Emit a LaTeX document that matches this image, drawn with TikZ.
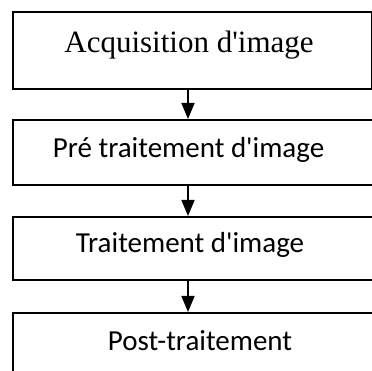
\documentclass[tikz,border=0pt]{standalone}
\usepackage{fontspec}
\newfontfamily\serfont{Liberation Serif}
\newfontfamily\calfont{Carlito}
\usetikzlibrary{arrows.meta}
\begin{document}
\begin{tikzpicture}[x=1pt,y=-1pt,
  boxstyle/.style={draw=black,line width=1.7pt,inner sep=0pt,anchor=north west},
  serifstyle/.style={font=\serfont\fontsize{31}{31}\selectfont,anchor=base,inner sep=0pt},
  sansstyle/.style={font=\calfont\fontsize{29}{29}\selectfont,anchor=base,inner sep=0pt},
  arr/.style={line width=1.7pt,-{Triangle[width=13pt,length=16pt]}}]
\useasboundingbox (0,0) rectangle (372,371);
\clip (0,0) rectangle (372,371);
\fill[white] (0,0) rectangle (372,371);
\node[boxstyle,minimum width=359pt,minimum height=77pt] (b1) at (12,11) {};
\node[boxstyle,minimum width=370pt,minimum height=65pt] (b2) at (12,119) {};
\node[boxstyle,minimum width=370pt,minimum height=63pt] (b3) at (12,216) {};
\node[boxstyle,minimum width=370pt,minimum height=90pt] (b4) at (12,312) {};
\node[serifstyle] (t1) at (189,53) {Acquisition d'image};
\node[sansstyle] (t2) at (188.5,158) {Pré traitement d'image};
\node[sansstyle] (t3) at (190,253) {Traitement d'image};
\node[sansstyle] (t4) at (200,350) {Post-traitement};
\coordinate (ax) at (188,0);
\draw[arr] (b1.south -| ax) -- (b2.north -| ax);
\draw[arr] (b2.south -| ax) -- (b3.north -| ax);
\draw[arr] (b3.south -| ax) -- (b4.north -| ax);
\end{tikzpicture}
\end{document}
